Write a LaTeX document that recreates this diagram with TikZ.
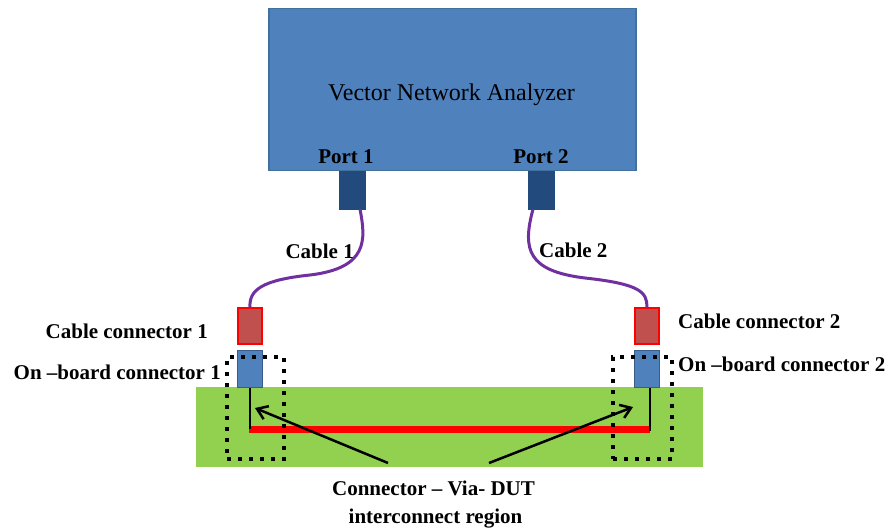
\documentclass[tikz,border=0pt]{standalone}
\usepackage{fontspec}
\setmainfont{Liberation Serif}
\usetikzlibrary{arrows.meta}
\definecolor{vnablue}{HTML}{4F81BD}
\definecolor{vnaedge}{HTML}{41719C}
\definecolor{portblue}{HTML}{234A7D}
\definecolor{ccfill}{HTML}{C0504D}
\definecolor{obedge}{HTML}{385D8A}
\definecolor{boardgreen}{HTML}{92D050}
\definecolor{cablepurple}{HTML}{7030A0}
\tikzset{
  vnabox/.style={draw=vnaedge, line width=1.5pt, fill=vnablue, rectangle, inner sep=0pt},
  portbox/.style={fill=portblue, draw=portblue, rectangle, minimum width=26pt, minimum height=38pt, inner sep=0pt},
  ccbox/.style={fill=ccfill, draw=red, line width=1.8pt, rectangle, minimum width=24pt, minimum height=36pt, inner sep=0pt},
  obbox/.style={fill=vnablue, draw=obedge, line width=1.5pt, rectangle, minimum width=25pt, minimum height=37pt, inner sep=0pt},
  boardbox/.style={fill=boardgreen, rectangle, inner sep=0pt, minimum width=507pt, minimum height=80pt},
  regionbox/.style={draw=black, line width=4pt, dash pattern=on 4pt off 7pt, rectangle, inner sep=0pt},
  cable/.style={draw=cablepurple, line width=3pt},
  lbl/.style={font=\fontsize{21}{25}\selectfont\bfseries, inner sep=0pt},
  trace/.style={draw=red, line width=7pt},
  via/.style={draw=black, line width=2.5pt},
  pointer/.style={draw=black, line width=2.5pt, -{Straight Barb[length=10pt,width=14pt,line width=2.5pt]}}
}
\begin{document}
\begin{tikzpicture}[x=1pt,y=-1pt]
\useasboundingbox[fill=white] (0,0) rectangle (892,531);

% board
\node[boardbox] (board) at (449.5,427) {};

% VNA
\node[vnabox, minimum width=367pt, minimum height=162pt] (vna) at (452.5,89.5) {};
\node[anchor=base, inner sep=0pt, font=\fontsize{24}{28}\selectfont] (vnatext) at (451.5,100) {Vector Network Analyzer};
\node[lbl, anchor=base] (port1lbl) at (346,163) {Port 1};
\node[lbl, anchor=base] (port2lbl) at (541,163) {Port 2};

% ports
\node[portbox] (p1) at (352,190) {};
\node[portbox] (p2) at (541.5,190) {};

% connectors
\node[ccbox] (cc1) at (250,326) {};
\node[obbox] (ob1) at (250,369) {};
\node[ccbox] (cc2) at (647,326) {};
\node[obbox] (ob2) at (647,369) {};

% cables
\draw[cable] ([xshift=8pt]p1.south) .. controls (366,240) and (368,268) .. (310,275)
  .. controls (262,280) and (249,290) .. (cc1.north);
\draw[cable] ([xshift=-8.5pt]p2.south) .. controls (522,250) and (528,271) .. (585,278)
  .. controls (640,284) and (647,292) .. (cc2.north);
\node[lbl, anchor=base east] (cab1) at (354,258) {Cable 1};
\node[lbl, anchor=base west] (cab2) at (539,257) {Cable 2};

% trace and vias
\coordinate (v1) at (250,429);
\coordinate (v2) at (650,429);
\draw[trace] ([xshift=-1.5pt]v1) -- (v2);
\draw[via] (ob1.south) -- (v1);
\draw[via] ([xshift=3pt]ob2.south) -- ([yshift=-2pt]v2);

% region boxes
\node[regionbox, minimum width=57pt, minimum height=102pt] (rg1) at (255.5,408) {};
\node[regionbox, minimum width=59pt, minimum height=102pt] (rg2) at (642.5,408) {};

% labels
\node[lbl, anchor=base east] (cc1lbl) at (208,338) {Cable connector 1};
\node[lbl, anchor=base east] (ob1lbl) at (221,379) {On –board connector 1};
\node[lbl, anchor=base west] (cc2lbl) at (678,328) {Cable connector 2};
\node[lbl, anchor=base west] (ob2lbl) at (678,371) {On –board connector 2};

% caption and pointers
\node[lbl, anchor=base] (cap1) at (433.5,495) {Connector – Via- DUT};
\node[lbl, anchor=base] (cap2) at (435.5,523) {interconnect region};
\coordinate (t1) at (255,408);
\coordinate (t2) at (633,407);
\coordinate (s1) at (388,463);
\coordinate (s2) at (489,463);
\draw[pointer] (s1) -- (t1);
\draw[pointer] (s2) -- (t2);
\end{tikzpicture}
\end{document}
